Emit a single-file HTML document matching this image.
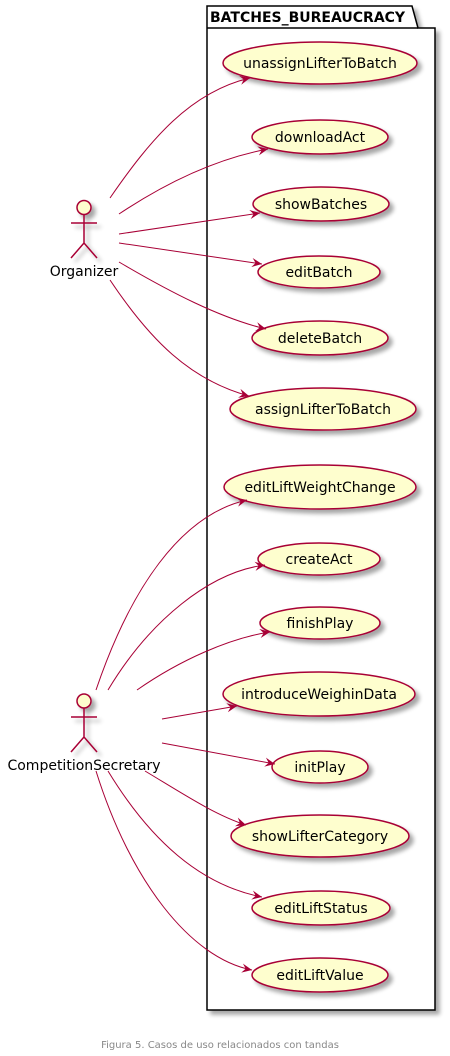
<!DOCTYPE html>
<html><head><meta charset="utf-8"><style>
html,body{margin:0;padding:0;background:#fff;}
svg{display:block;}
text{font-family:"DejaVu Sans","Liberation Sans",sans-serif;}
</style></head><body>
<svg width="450" height="1056" viewBox="0 0 450 1056" xmlns="http://www.w3.org/2000/svg">
<defs>
<filter id="sh" x="-20%" y="-20%" width="150%" height="160%">
<feGaussianBlur in="SourceAlpha" stdDeviation="2"/>
<feOffset dx="4" dy="4" result="b"/>
<feComponentTransfer><feFuncA type="linear" slope="0.35"/></feComponentTransfer>
<feMerge><feMergeNode/><feMergeNode in="SourceGraphic"/></feMerge>
</filter>
<marker id="ar" viewBox="0 0 12 10" refX="11" refY="5" markerWidth="11" markerHeight="10" orient="auto" markerUnits="userSpaceOnUse">
<path d="M0,0 L11,5 L0,10 L4,5 Z" fill="#A80036"/>
</marker>
</defs>

<g filter="url(#sh)">
<path d="M207,28 L207,6 L412,6 L418,28 L435,28 L435,1010 L207,1010 Z" fill="#fff" stroke="#000" stroke-width="1.5"/>
</g>
<line x1="207" y1="28" x2="418" y2="28" stroke="#000" stroke-width="1.5"/>
<text x="210" y="22" font-size="14" font-weight="bold">BATCHES_BUREAUCRACY</text>

<g fill="#FEFECE" stroke="#A80036" stroke-width="1.5" filter="url(#sh)">
<ellipse cx="320" cy="63" rx="97" ry="21"/>
<ellipse cx="320" cy="137" rx="68" ry="17"/>
<ellipse cx="321" cy="204" rx="68" ry="17"/>
<ellipse cx="319" cy="272" rx="61" ry="16"/>
<ellipse cx="320" cy="338" rx="68" ry="17"/>
<ellipse cx="323" cy="409" rx="93" ry="21"/>
<ellipse cx="320" cy="487" rx="96" ry="22"/>
<ellipse cx="319" cy="559" rx="61" ry="16"/>
<ellipse cx="320" cy="623" rx="60" ry="16"/>
<ellipse cx="319" cy="694" rx="96" ry="22"/>
<ellipse cx="320" cy="767" rx="48" ry="16"/>
<ellipse cx="320" cy="836" rx="89" ry="21"/>
<ellipse cx="321" cy="908" rx="69" ry="17"/>
<ellipse cx="320" cy="975" rx="68" ry="17"/>
</g>
<g font-size="14" text-anchor="middle" fill="#000">
<text x="320" y="68">unassignLifterToBatch</text>
<text x="320" y="142">downloadAct</text>
<text x="321" y="209">showBatches</text>
<text x="319" y="277">editBatch</text>
<text x="320" y="343">deleteBatch</text>
<text x="323" y="414">assignLifterToBatch</text>
<text x="320" y="492">editLiftWeightChange</text>
<text x="319" y="564">createAct</text>
<text x="320" y="628">finishPlay</text>
<text x="319" y="699">introduceWeighinData</text>
<text x="320" y="772">initPlay</text>
<text x="320" y="841">showLifterCategory</text>
<text x="321" y="913">editLiftStatus</text>
<text x="320" y="980">editLiftValue</text>
</g>

<g fill="none" stroke="#A80036" stroke-width="1.5" filter="url(#sh)">
<circle cx="84" cy="207.5" r="7" fill="#FEFECE"/>
<path d="M84,214.5 V243 M71,223 H97 M84,243 L71,258 M84,243 L97,258"/>
<circle cx="84" cy="701" r="7" fill="#FEFECE"/>
<path d="M84,708 V737 M71,717 H97 M84,737 L71,752 M84,737 L97,752"/>
</g>
<g font-size="14" text-anchor="middle" fill="#000">
<text x="84" y="276">Organizer</text>
<text x="84" y="770">CompetitionSecretary</text>
</g>

<g fill="none" stroke="#A80036" stroke-width="1" marker-end="url(#ar)">
<path d="M110,198 C150,140 190,92 250,78"/>
<path d="M119,214 C170,180 220,158 268,149"/>
<path d="M119,234 L260,213"/>
<path d="M119,243 L262,264"/>
<path d="M119,262 C170,292 220,318 266,329"/>
<path d="M110,280 C150,340 190,380 249,396"/>
<path d="M96,690 C130,590 180,515 247,500"/>
<path d="M108,690 C150,620 210,572 265,565"/>
<path d="M137,690 C180,660 230,638 270,632"/>
<path d="M162,719 L237,706"/>
<path d="M162,743 L275,764"/>
<path d="M145,771 C185,795 215,815 246,825"/>
<path d="M108,771 C150,840 200,885 262,897"/>
<path d="M96,771 C130,880 190,958 252,970"/>
</g>

<text x="220" y="1048" font-size="10" fill="#888" text-anchor="middle">Figura 5. Casos de uso relacionados con tandas</text>
</svg>
</body></html>
